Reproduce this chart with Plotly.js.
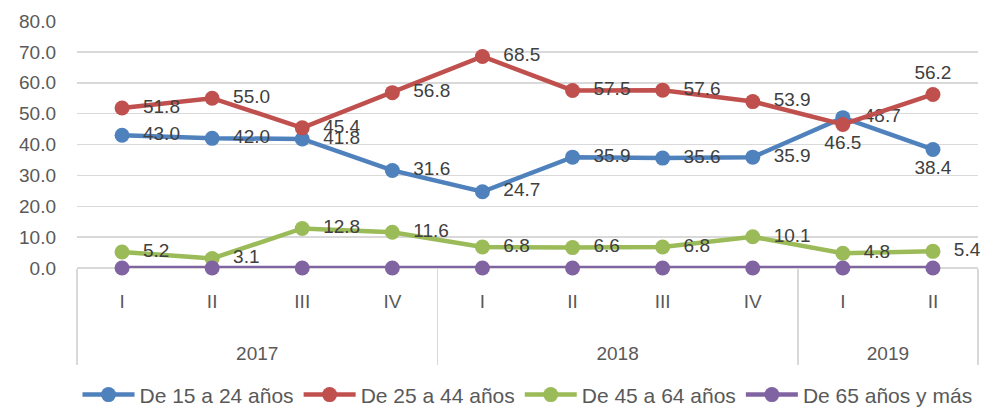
<!DOCTYPE html>
<html>
<head>
<meta charset="utf-8">
<script src="https://cdn.plot.ly/plotly-3.0.1.min.js"></script>
<style>html,body{margin:0;padding:0;background:#fff;}#chart{width:990px;height:407px;}</style>
</head>
<body>
<div id="chart"></div>
<script>
const years = ["2017","2017","2017","2017","2018","2018","2018","2018","2019","2019"];
const quarters = ["I","II","III","IV","I","II","III","IV","I","II"];
const seriesNames = ["De 15 a 24 años","De 25 a 44 años","De 45 a 64 años","De 65 años y más"];
const s15a24 = [43.0, 42.0, 41.8, 31.6, 24.7, 35.9, 35.6, 35.9, 48.7, 38.4];
const s25a44 = [51.8, 55.0, 45.4, 56.8, 68.5, 57.5, 57.6, 53.9, 46.5, 56.2];
const s45a64 = [5.2, 3.1, 12.8, 11.6, 6.8, 6.6, 6.8, 10.1, 4.8, 5.4];
const s65mas = [0, 0, 0, 0, 0, 0, 0, 0, 0, 0];
const yTicks = [0,10,20,30,40,50,60,70,80];

const colors = ["#4F81BD","#C0504D","#9BBB59","#8064A2"];
const R = "middle right", B = "bottom center", T = "top center";
const pos15 = [R,R,R,R,R,R,R,R,R,B];
const pos25 = [R,R,R,R,R,R,R,R,B,T];
const pos45 = [R,R,R,R,R,R,R,R,R,R];

const sp = "\u00a0\u00a0";
function labels(vals, posArr){
  return vals.map((v,i)=>{
    const t = v.toFixed(1);
    return posArr[i] === R ? sp + t : t;
  });
}

// year row is pushed lower to leave room like the reference
const yearRow = years.map(y => "<br><br>" + y);

function trace(vals, idx, posArr){
  const t = {
    x: [yearRow, quarters],
    y: vals,
    name: seriesNames[idx],
    type: "scatter",
    mode: posArr ? "lines+markers+text" : "lines+markers",
    line: {color: colors[idx], width: 4.5},
    marker: {color: colors[idx], size: 15},
    cliponaxis: false,
    hoverinfo: "skip"
  };
  if (posArr){
    t.text = labels(vals, posArr);
    t.textposition = posArr;
    t.textfont = {family: "Liberation Sans, Arial, sans-serif", size: 19, color: "#404040"};
  }
  return t;
}

const data = [
  trace(s15a24, 0, pos15),
  trace(s25a44, 1, pos25),
  trace(s45a64, 2, pos45),
  trace(s65mas, 3, null)
];

const layout = {
  width: 990, height: 407,
  margin: {l: 77, r: 12, t: 21, b: 139, autoexpand: false},
  paper_bgcolor: "#ffffff",
  plot_bgcolor: "#ffffff",
  font: {family: "Liberation Sans, Arial, sans-serif", size: 19, color: "#595959"},
  showlegend: true,
  legend: {orientation: "h", x: 0.5, xanchor: "center", y: -0.514, yanchor: "middle",
           font: {size: 21, color: "#595959"}, traceorder: "normal", itemwidth: 52},
  xaxis: {
    type: "multicategory",
    range: [-0.5, 9.5],
    showgrid: false,
    showline: false,
    zeroline: false,
    showdividers: true,
    dividercolor: "#d9d9d9",
    dividerwidth: 1.5,
    ticklabelstandoff: 20,
    tickfont: {size: 19, color: "#595959"}
  },
  yaxis: {
    range: [0, 80],
    tickvals: yTicks,
    tickformat: ".1f",
    showgrid: true,
    gridcolor: "#d9d9d9",
    gridwidth: 1.5,
    zeroline: true,
    zerolinecolor: "#d9d9d9",
    zerolinewidth: 1.5,
    showline: false,
    ticklabelstandoff: 20,
    tickfont: {size: 19, color: "#595959"}
  }
};

Plotly.newPlot("chart", data, layout, {displayModeBar: false, staticPlot: true});
</script>
</body>
</html>
